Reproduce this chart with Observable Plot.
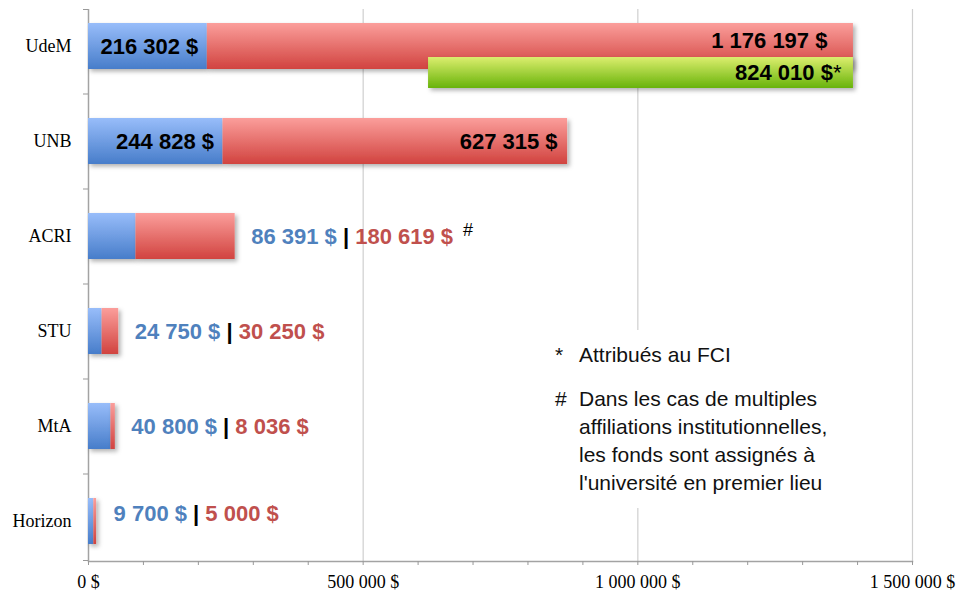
<!DOCTYPE html>
<html>
<head>
<meta charset="utf-8">
<script src="https://cdn.jsdelivr.net/npm/d3@7"></script>
<script src="https://cdn.jsdelivr.net/npm/@observablehq/plot@0.6"></script>
<style>
  html, body { margin: 0; padding: 0; background: #fff; }
  #wrap { position: relative; width: 960px; height: 592px; overflow: hidden; }
  #note {
    position: absolute; left: 540px; top: 330px; width: 320px; height: 178px;
    background: #fff; font-family: "Liberation Sans", Arial, sans-serif; font-size: 21px;
    line-height: 28px; color: #111;
  }
  #note .line { padding-left: 39px; text-indent: -24px; white-space: nowrap; }
  #note .sym { display: inline-block; text-indent: 0; width: 24px; }
  #note .block2 { margin-top: 16px; }
  #note .cont { text-indent: 0; }
</style>
</head>
<body>
<div id="wrap"></div>
<script>
// ---- data ----
const institutions = ["UdeM", "UNB", "ACRI", "STU", "MtA", "Horizon"];
const fundsBlue = [216302, 244828, 86391, 24750, 40800, 9700];
const fundsRed = [1176197, 627315, 180619, 30250, 8036, 5000];
const notes = ["", "", "#", "", "", ""];
const insideLabelRows = ["UdeM", "UNB"];
const fciInstitution = "UdeM";
const fciValue = 824010;
const fciStart = 619000; // left edge of the green bar
const fciMark = "*";
const xTicks = [0, 500000, 1000000, 1500000];
const minorTicks = d3.range(0, 1500001, 100000);
const noteStar = "Attribués au FCI";
const noteHash = ["Dans les cas de multiples", "affiliations institutionnelles,", "les fonds sont assignés à", "l'université en premier lieu"];

// ---- derived table ----
const fmt = d => d3.format(",")(d).replace(/,/g, " ") + " $";
const rows = institutions.map((name, i) => ({
  name, blue: fundsBlue[i], red: fundsRed[i], total: fundsBlue[i] + fundsRed[i], note: notes[i]
}));
const udem = rows.find(r => r.name === fciInstitution);
const fci = [{name: fciInstitution, start: fciStart, end: udem.total, label: `k:${fmt(fciValue)}~s:${fciMark}`}];
const inside = rows.filter(r => insideLabelRows.includes(r.name));
const outside = rows.filter(r => !insideLabelRows.includes(r.name));
const outsideText = r => `b:${fmt(r.blue)}~k:\u00a0|\u00a0~r:${fmt(r.red)}` + (r.note ? `~n:\u00a0\u00a0${r.note}` : "");
const lastRow = institutions[institutions.length - 1];

const labelFont = {fontFamily: "Liberation Sans, Arial, sans-serif", fontSize: 22, fontWeight: "bold"};

const chart = Plot.plot({
  width: 960,
  height: 592,
  marginLeft: 88,
  marginRight: 48,
  marginTop: 9,
  marginBottom: 31,
  style: {fontFamily: "Liberation Serif, serif", fontSize: "18px", color: "#000", background: "#fff"},
  x: {domain: [0, 1500000], axis: null, label: null},
  y: {type: "band", domain: institutions, range: [-1.5, 568.5], paddingInner: 0.52, paddingOuter: 0.26, axis: null, label: null},
  marks: [
    Plot.ruleX(xTicks.slice(1), {stroke: "#cfcfcf", strokeWidth: 1.2}),
    Plot.ruleX([0], {stroke: "#a3a3a3", strokeWidth: 1.5}),
    Plot.frame({anchor: "bottom", stroke: "#a3a3a3", strokeWidth: 1.5}),
    Plot.axisX({ticks: minorTicks, tickSize: 4, tickFormat: () => "", stroke: "#999", label: null}),
    Plot.axisX({ticks: xTicks, tickSize: 0, tickPadding: 14, tickFormat: fmt, fontSize: 18, label: null}),
    Plot.axisY({ticks: institutions.slice(0, -1), dy: 47.5, tickSize: 5, tickFormat: () => "", stroke: "#999", label: null}),
    Plot.axisY({ticks: institutions.slice(0, 1), dy: -37, tickSize: 5, tickFormat: () => "", stroke: "#999", label: null}),
    Plot.axisY({ticks: [lastRow], dy: 39, tickSize: 5, tickFormat: () => "", stroke: "#999", label: null}),
    Plot.axisY({tickSize: 0, tickPadding: 17, fontSize: 18, label: null}),
    Plot.barX(rows, {y: "name", x1: 0, x2: "blue", fill: "url(#gBlue)"}),
    Plot.barX(rows, {y: "name", x1: "blue", x2: "total", fill: "url(#gRed)"}),
    Plot.barX(fci, {y: "name", x1: "start", x2: "end", dy: 34, insetBottom: 15, fill: "url(#gGreen)"}),
    // labels inside bars
    Plot.text(inside, {y: "name", x: "blue", text: r => fmt(r.blue), textAnchor: "end", dx: -9, fill: "#000", ...labelFont}),
    Plot.text(inside.filter(r => r.name === fciInstitution), {y: "name", x: "total", text: r => fmt(r.red), textAnchor: "end", dx: -26, dy: -6, fill: "#000", ...labelFont}),
    Plot.text(inside.filter(r => r.name !== fciInstitution), {y: "name", x: "total", text: r => fmt(r.red), textAnchor: "end", dx: -10, fill: "#000", ...labelFont}),
    Plot.text(fci, {y: "name", x: "end", text: "label", textAnchor: "end", dx: -12, dy: 26.5, fill: "#000", ...labelFont}),
    // labels outside bars
    Plot.text(outside.filter(r => r.name !== lastRow), {y: "name", x: "total", text: outsideText, textAnchor: "start", dx: 16, fill: "#000", ...labelFont}),
    Plot.text(outside.filter(r => r.name === lastRow), {y: "name", x: "total", text: outsideText, textAnchor: "start", dx: 17, dy: -8, fill: "#000", ...labelFont})
  ]
});

// gradients and shadow
const svg = d3.select(chart);
const defs = svg.insert("defs", ":first-child");
const grads = [["gBlue", "#98bdfa", "#477dca"], ["gRed", "#fb9e9b", "#d1433f"], ["gGreen", "#dcee6e", "#68b30a"]];
for (const [id, c0, c1] of grads) {
  const g = defs.append("linearGradient").attr("id", id).attr("x1", 0).attr("y1", 0).attr("x2", 0).attr("y2", 1);
  g.append("stop").attr("offset", "0%").attr("stop-color", c0);
  g.append("stop").attr("offset", "100%").attr("stop-color", c1);
}
const f = defs.append("filter").attr("id", "shadow").attr("x", "-5%").attr("y", "-20%").attr("width", "115%").attr("height", "170%");
f.append("feDropShadow").attr("dx", 2.5).attr("dy", 2.5).attr("stdDeviation", 2).attr("flood-color", "#000").attr("flood-opacity", 0.3);
svg.selectAll('g[aria-label="bar"]').attr("filter", "url(#shadow)");

// multi-coloured label segments
const segStyle = {
  b: {fill: "#4f81bd", weight: "bold"},
  r: {fill: "#c0504d", weight: "bold"},
  k: {fill: "#000", weight: "bold"},
  s: {fill: "#000", weight: "normal"},
  n: {fill: "#000", weight: "normal", size: "18px", dy: -8}
};
svg.selectAll("text").filter(function() { return /^[a-z]:/.test(this.textContent) && this.textContent.includes("~"); })
  .each(function() {
    const parts = this.textContent.split("~");
    this.textContent = "";
    const t = d3.select(this);
    for (const p of parts) {
      const code = p.slice(0, 1), txt = p.slice(2), st = segStyle[code];
      const ts = t.append("tspan").text(txt).attr("fill", st.fill).attr("font-weight", st.weight);
      if (st.size) ts.attr("font-size", st.size);
      if (st.dy) ts.attr("dy", st.dy);
    }
  });

const wrap = document.getElementById("wrap");
wrap.appendChild(chart);

// footnote box
const note = document.createElement("div");
note.id = "note";
const l1 = document.createElement("div");
l1.className = "line";
l1.style.marginTop = "10.7px";
l1.innerHTML = `<span class="sym">*</span>`;
l1.appendChild(document.createTextNode(noteStar));
const b2 = document.createElement("div");
b2.className = "block2";
noteHash.forEach((txt, i) => {
  const d = document.createElement("div");
  d.className = "line" + (i ? " cont" : "");
  if (i === 0) d.innerHTML = `<span class="sym">#</span>`;
  d.appendChild(document.createTextNode(txt));
  b2.appendChild(d);
});
note.appendChild(l1);
note.appendChild(b2);
wrap.appendChild(note);
</script>
</body>
</html>
